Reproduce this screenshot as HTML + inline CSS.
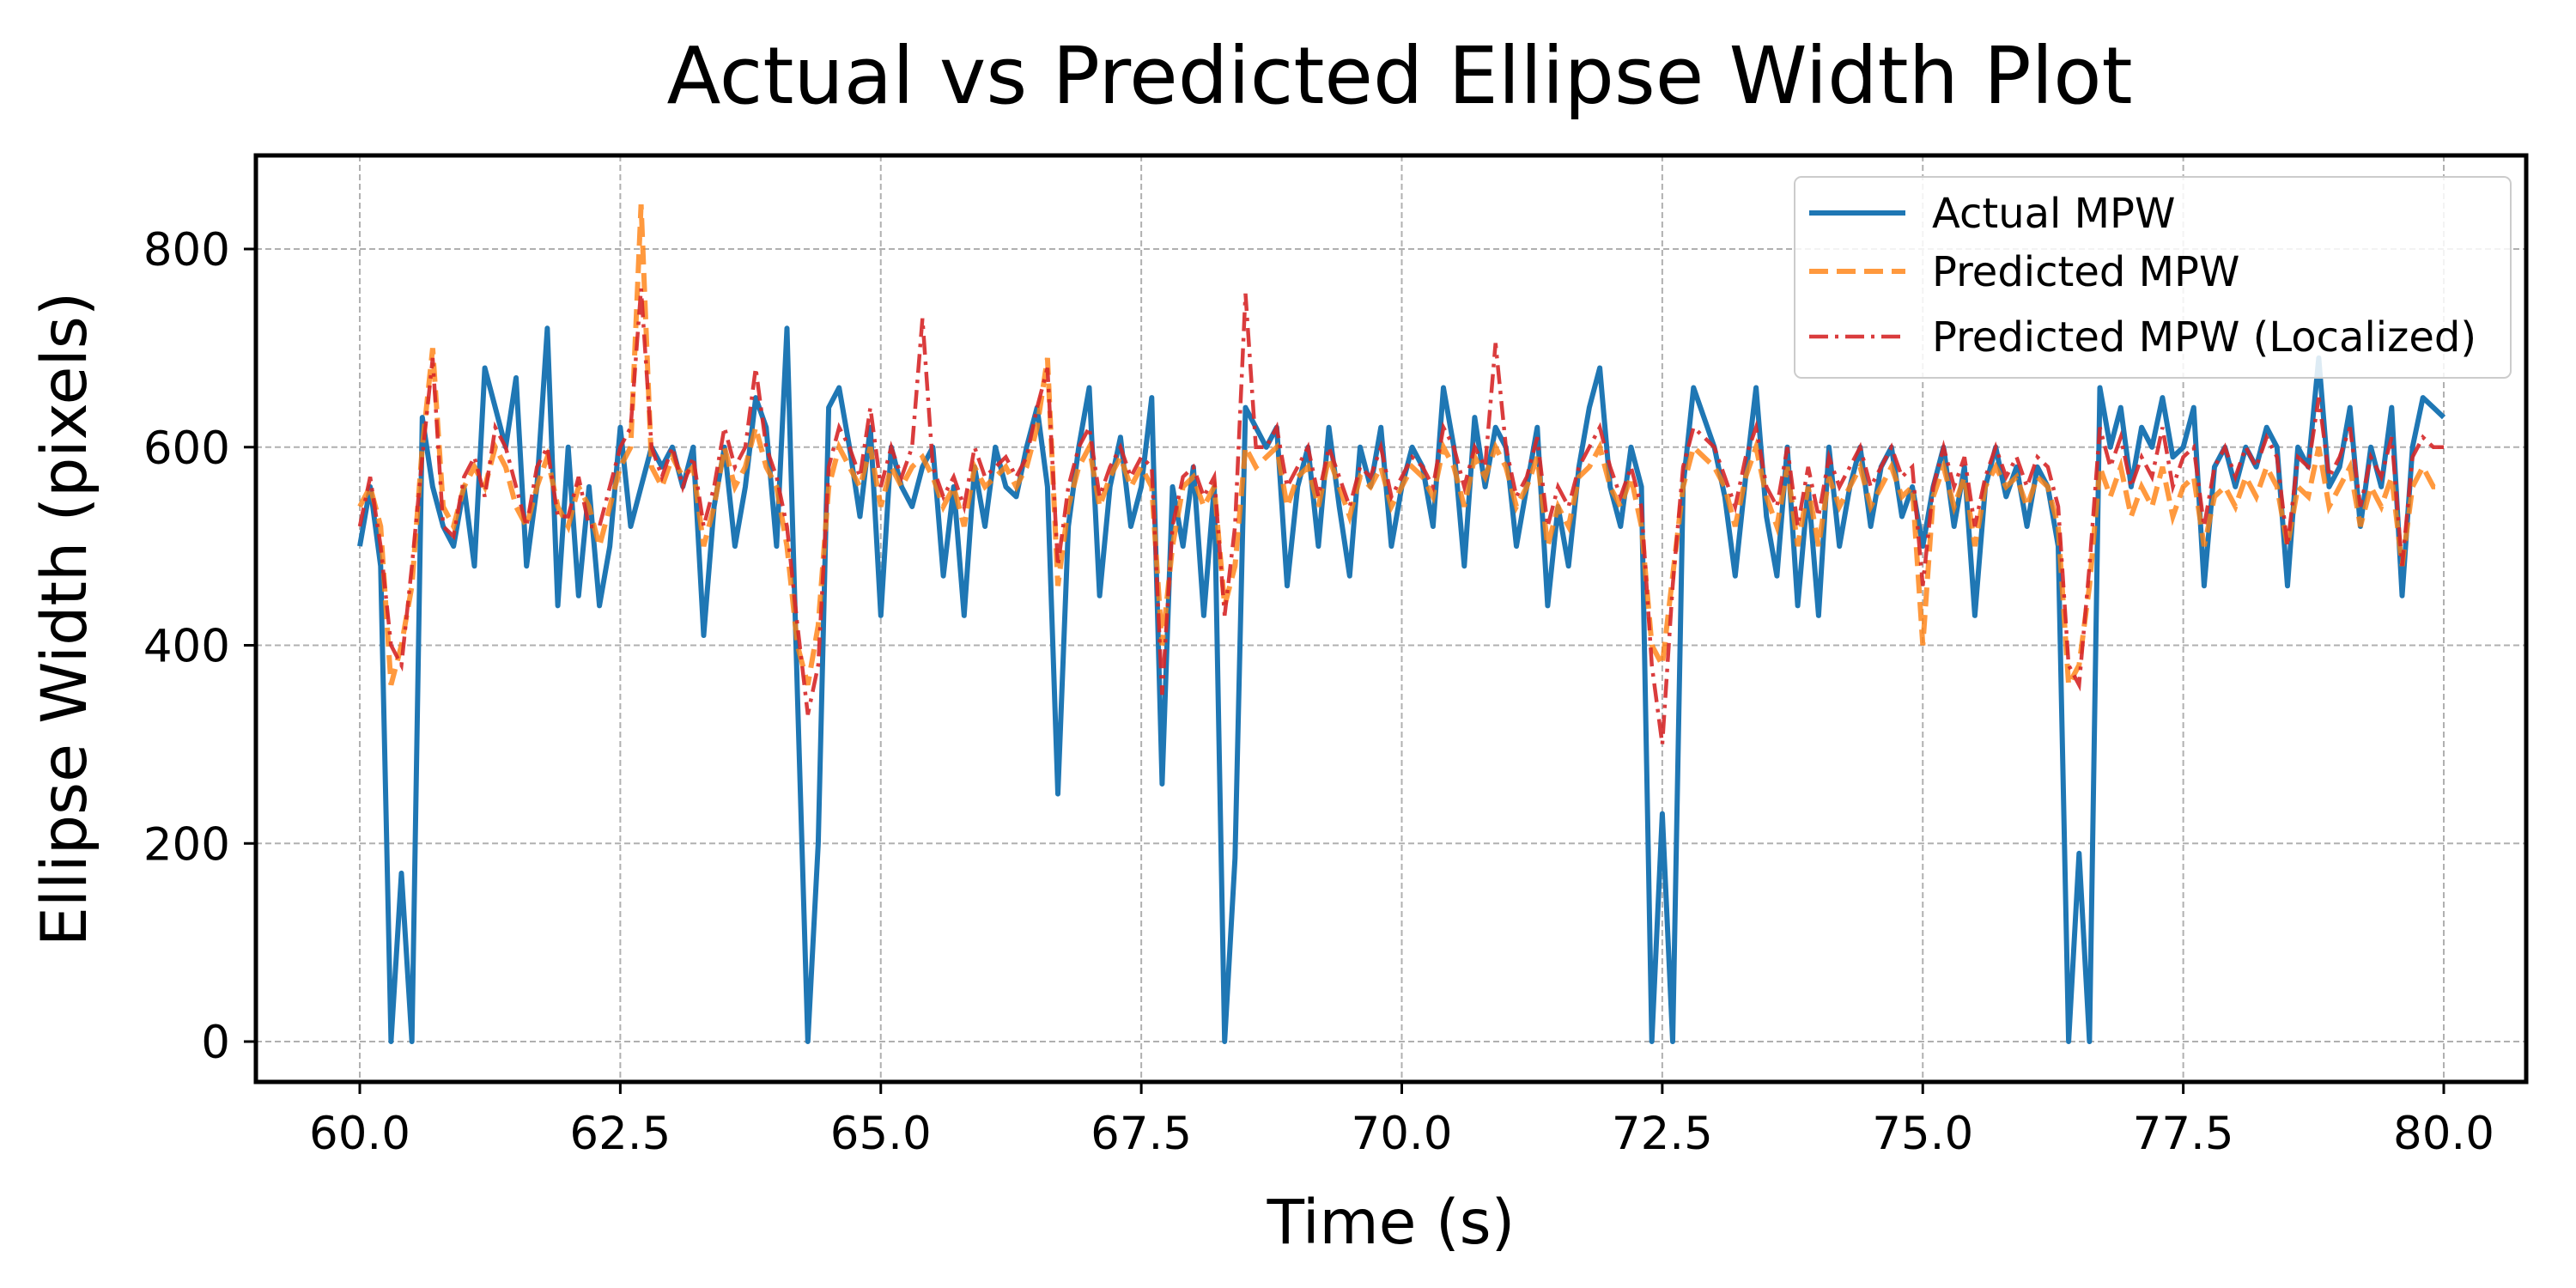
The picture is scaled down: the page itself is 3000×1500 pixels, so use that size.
<!DOCTYPE html>
<html><head><meta charset="utf-8"><style>
html,body{margin:0;padding:0;background:#fff;}
svg{display:block;font-family:"DejaVu Sans","Liberation Sans",sans-serif;}
</style></head><body>
<svg id="chart" width="3000" height="1500" viewBox="0 0 3000 1500" xmlns="http://www.w3.org/2000/svg">
<rect x="0" y="0" width="3000" height="1500" fill="#fff"/>
<text x="1630" y="120" font-size="92" text-anchor="middle" fill="#000">Actual vs Predicted Ellipse Width Plot</text>
<g id="grid"></g>
<g id="series"></g>
<rect x="298" y="181" width="2644" height="1079" fill="none" stroke="#000" stroke-width="5"/>
<g id="ticks"></g>
<text x="1620" y="1448" font-size="71" text-anchor="middle">Time (s)</text>
<text transform="translate(100,721) rotate(-90)" font-size="73" text-anchor="middle">Ellipse Width (pixels)</text>
<g>
<rect x="2090" y="206" width="834" height="234" rx="8" fill="#fff" fill-opacity="0.85" stroke="#ccc" stroke-width="2"/>
<line x1="2107" y1="248" x2="2219" y2="248" stroke="#1f77b4" stroke-width="6"/>
<text x="2250" y="265" font-size="48">Actual MPW</text>
<line x1="2107" y1="316" x2="2219" y2="316" stroke="#ff7f0e" stroke-opacity="0.8" stroke-width="6" stroke-dasharray="22,10"/>
<text x="2250" y="333" font-size="48">Predicted MPW</text>
<line x1="2107" y1="392" x2="2219" y2="392" stroke="#d62728" stroke-opacity="0.9" stroke-width="4.5" stroke-dasharray="22,8,4,8"/>
<text x="2250" y="409" font-size="48">Predicted MPW (Localized)</text>
</g>
</svg>
<script>
const xTicks = [60.0, 62.5, 65.0, 67.5, 70.0, 72.5, 75.0, 77.5, 80.0];
const xTickLabels = ["60.0","62.5","65.0","67.5","70.0","72.5","75.0","77.5","80.0"];
const yTicks = [0, 200, 400, 600, 800];
const yTickLabels = ["0","200","400","600","800"];
const tStart = 60.0;
const tStep = 0.1;
const actualMPW = [500,560,480,0,170,0,630,560,520,500,
560,480,680,640,600,670,480,560,720,440,
600,450,560,440,500,620,520,560,600,580,
600,560,600,410,540,600,500,560,650,620,
500,720,350,0,200,640,660,600,530,620,
430,600,560,540,580,600,470,560,430,580,
520,600,560,550,600,640,560,250,520,600,
660,450,560,610,520,560,650,260,560,500,
580,430,560,0,185,640,620,600,620,460,
560,600,500,620,540,470,600,560,620,500,
560,600,580,520,660,600,480,630,560,620,
600,500,560,620,440,540,480,580,640,680,
560,520,600,560,0,230,0,560,660,630,
600,550,470,570,660,530,470,600,440,560,
430,600,500,560,600,520,580,600,530,560,
500,560,600,520,580,430,560,600,550,580,
520,580,560,500,0,190,0,660,600,640,
560,620,600,650,590,600,640,460,580,600,
560,600,580,620,600,460,600,580,690,560,
580,640,520,600,560,640,450,600,650,640,630];
const predictedMPW = [540,560,520,360,400,460,600,700,540,520,
560,580,560,600,580,540,520,560,590,540,
520,560,540,500,540,580,600,845,580,560,
590,570,580,500,540,600,560,580,620,580,
560,500,400,360,420,560,600,580,560,600,
540,580,560,580,590,570,540,560,520,580,
560,570,580,560,580,620,690,460,540,580,
600,540,570,590,560,580,560,400,500,560,
570,540,560,440,480,600,580,590,600,540,
570,580,540,590,560,530,570,560,580,540,
560,580,570,550,600,580,540,590,570,600,
580,540,560,590,500,540,520,570,580,600,
560,540,570,520,400,380,470,560,600,590,
580,560,520,570,600,550,520,580,500,560,
500,570,540,560,580,540,560,580,550,560,
400,550,580,540,570,500,560,580,560,570,
540,570,560,520,360,380,460,580,550,580,
530,560,540,580,530,560,570,500,550,560,
540,570,550,580,560,500,560,550,600,540,
560,580,520,560,540,570,480,560,580,560,560];
const localizedMPW = [520,570,500,400,380,480,590,690,520,510,
570,590,550,620,600,560,520,580,600,530,
530,570,520,520,560,600,620,760,600,570,
600,560,590,520,560,620,580,600,680,600,
570,520,420,330,380,580,620,600,570,640,
560,600,570,600,730,580,550,570,540,600,
570,580,590,570,590,640,680,480,560,600,
620,550,580,600,570,590,580,350,520,570,
580,550,570,430,520,755,600,600,620,560,
580,600,550,600,570,540,580,570,600,550,
570,590,580,560,620,600,560,600,580,705,
600,550,570,610,520,560,540,580,600,620,
580,550,580,540,380,300,460,580,620,610,
600,570,540,590,620,560,540,600,520,580,
530,590,560,580,600,560,580,600,570,580,
460,560,600,560,590,520,570,600,570,590,
560,590,580,540,380,360,480,620,580,610,
560,590,570,620,560,590,600,520,580,600,
570,600,580,610,590,500,590,580,650,570,
590,620,540,590,570,610,480,590,610,600,600];

const X0=298, X1=2942, Y0=181, Y1=1260;
function xs(v){ return 419 + (v-60)*(2846-419)/20; }
function ys(v){ return 1213 - v*(1213-290)/800; }
const NS="http://www.w3.org/2000/svg";
const grid=document.getElementById('grid');
const ticks=document.getElementById('ticks');
const series=document.getElementById('series');
function mk(tag, attrs, parent){
  const e=document.createElementNS(NS,tag);
  for(const k in attrs) e.setAttribute(k,attrs[k]);
  parent.appendChild(e); return e;
}
xTicks.forEach((v,i)=>{
  const x=xs(v);
  const g=mk('line',{x1:x,x2:x,y1:Y0,y2:Y1,stroke:'#b0b0b0','stroke-width':2,'stroke-dasharray':'7,4'},grid);
  
  
  const t=mk('line',{x1:x,x2:x,y1:Y1,y2:Y1+14,stroke:'#000','stroke-width':3},ticks);
  
  
  const l=mk('text',{x:x,y:Y1+78,'font-size':53,'text-anchor':'middle'},ticks);
  l.textContent=xTickLabels[i];
  
  
});
yTicks.forEach((v,i)=>{
  const y=ys(v);
  const g=mk('line',{x1:X0,x2:X1,y1:y,y2:y,stroke:'#b0b0b0','stroke-width':2,'stroke-dasharray':'7,4'},grid);
  
  
  const t=mk('line',{x1:X0-14,x2:X0,y1:y,y2:y,stroke:'#000','stroke-width':3},ticks);
  
  
  const l=mk('text',{x:X0-30,y:y+19,'font-size':53,'text-anchor':'end'},ticks);
  l.textContent=yTickLabels[i];
  
  
});
function pathOf(arr){
  return arr.map((v,i)=>(i?'L':'M')+xs(tStart+i*tStep).toFixed(1)+','+ys(v).toFixed(1)).join(' ');
}
const p1=mk('path',{d:pathOf(actualMPW),fill:'none',stroke:'#1f77b4','stroke-width':6,'stroke-linejoin':'round'},series);


const p2=mk('path',{d:pathOf(predictedMPW),fill:'none',stroke:'#ff7f0e','stroke-opacity':0.8,'stroke-width':6,'stroke-dasharray':'22,10'},series);


const p3=mk('path',{d:pathOf(localizedMPW),fill:'none',stroke:'#d62728','stroke-opacity':0.9,'stroke-width':4.5,'stroke-dasharray':'22,8,4,8'},series);


</script>
</body></html>
